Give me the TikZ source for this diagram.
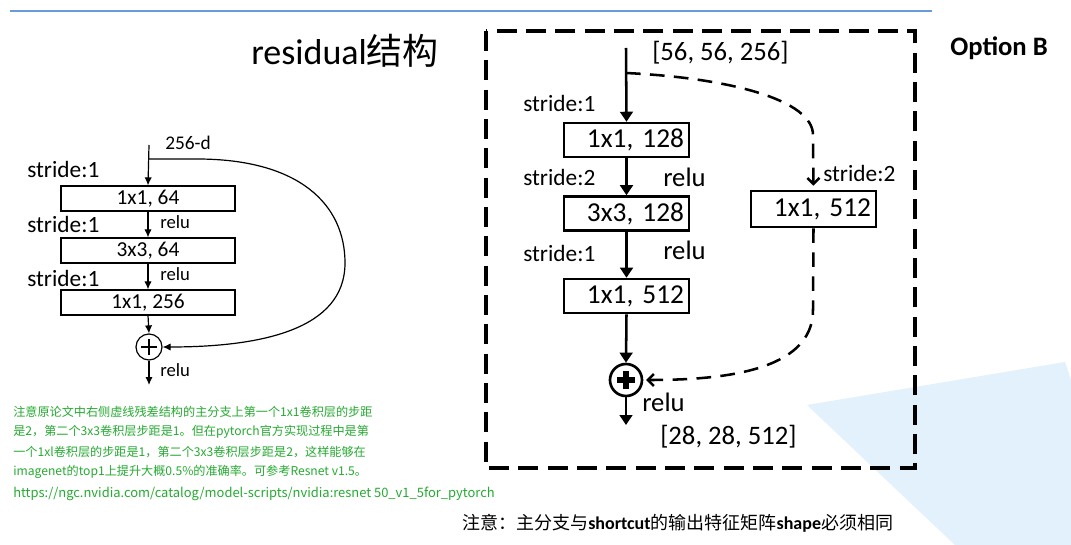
\documentclass[tikz,border=0pt]{standalone}
\usepackage{fontspec}
\setmainfont{Carlito}
\newfontfamily\cjk{Noto Sans CJK SC}
\usetikzlibrary{arrows.meta}
\definecolor{notegreen}{RGB}{38,170,50}
\definecolor{slideblue}{RGB}{106,154,216}
\definecolor{bgblue}{RGB}{226,241,251}

\begin{document}
\begin{tikzpicture}[x=0.75pt,y=-0.75pt,
    every node/.style={inner sep=0pt},
    lbox/.style={draw,line width=0.9pt,minimum width=130.5pt,minimum height=18.75pt,
        font=\fontsize{16}{18}\selectfont},
    rbox/.style={draw,line width=1.9pt,minimum width=93.75pt,minimum height=25.5pt,
        inner xsep=3.75pt,text width=86.25pt,align=right,font=\fontsize{20.5}{22}\selectfont},
    lline/.style={line width=0.9pt,-{Latex[length=6pt,width=5.5pt]}},
    rline/.style={line width=1.9pt,-{Triangle[length=7.5pt,width=9.5pt]}},
    dline/.style={line width=1.9pt,dash pattern=on 11pt off 7pt,-{Straight Barb[length=4.5pt,width=9pt]}},
    lbl/.style={anchor=west,font=\fontsize{17.5}{20}\selectfont},
    rlbl/.style={anchor=west,font=\fontsize{20}{22}\selectfont},
    greenline/.style={anchor=west,text=notegreen,font=\cjk\fontsize{9.1}{12}\selectfont}
]

    % page and background
    \useasboundingbox (0,0) rectangle (1071,545);
    \fill[white] (0,0) rectangle (1071,545);
    \fill[bgblue] (807,405) -- (1065,362) -- (1071,380) -- (1071,545) -- (955,545) -- cycle;
    \draw[slideblue,line width=0.8pt] (10,11) -- (932,11);

    \node[anchor=base west,font=\fontsize{27}{30}\selectfont] (title) at (251,65) {residual{\cjk 结构}};

    % left block
    \coordinate (lin) at (149,145);
    \coordinate (lsplit) at (149,159);
    \node[font=\fontsize{14.5}{16}\selectfont] (ldim) at (188,143) {256-d};
    \node[lbox] (l1) at (148,198.5) {1x1, 64};
    \node[lbox] (l2) at (148,250.5) {3x3, 64};
    \node[lbox] (l3) at (148,302.5) {1x1, 256};
    \node[circle,draw,line width=0.9pt,minimum size=19.5pt] (ladd) at (149,347) {};
    \draw[line width=0.9pt] (ladd.center) ++(-8,0) -- ++(16,0);
    \draw[line width=0.9pt] (ladd.center) ++(0,-8) -- ++(0,16);
    \coordinate (lout) at (149,385);

    \node[lbl] (ls1) at (27,169) {stride:1};
    \node[lbl] (ls2) at (27,224) {stride:1};
    \node[lbl] (ls3) at (27,278) {stride:1};
    \node[anchor=west,font=\fontsize{14}{16}\selectfont] (lr1) at (160,222) {relu};
    \node[anchor=west,font=\fontsize{14}{16}\selectfont] (lr2) at (160,274) {relu};
    \node[anchor=west,font=\fontsize{14}{16}\selectfont] (lr3) at (160,370) {relu};

    \draw[lline] (lin) -- (l1.north);
    \draw[lline] (l1.south) -- (l2.north);
    \draw[lline] (l2.south) -- (l3.north);
    \draw[lline] (l3.south) -- (ladd.north);
    \draw[lline] (ladd.south) -- (lout);
    \draw[lline] (lsplit) -- (197,159) .. controls (300,159) and (345,205) .. (345,263)
        .. controls (345,330) and (260,347) .. (ladd.east);

    % right block, option B
    \draw[line width=2.3pt,dash pattern=on 15pt off 7pt] (486,31) rectangle (915,468);
    \node[anchor=west,font=\bfseries\fontsize{20}{24}\selectfont] (optb) at (950,48) {Option B};

    \coordinate (rin) at (626,48);
    \coordinate (rsplit) at (626,73);
    \node[rlbl] (rdin) at (652,53) {[56, 56, 256]};
    \node[rbox] (r1) at (626.5,140) {1x1, 128};
    \node[rbox] (r2) at (626.5,213.5) {3x3, 128};
    \node[rbox] (r3) at (626.5,296) {1x1, 512};
    \node[rbox,minimum height=27pt] (rsc) at (813.5,209) {1x1, 512};
    \node[circle,draw,line width=2pt,minimum size=24pt] (radd) at (626,380) {};
    \draw[line width=4.5pt] (radd.center) ++(-9,0) -- ++(18,0);
    \draw[line width=4.5pt] (radd.center) ++(0,-9) -- ++(0,18);
    \coordinate (rout) at (626,425);

    \node[lbl] (rs1) at (523,103) {stride:1};
    \node[lbl] (rs2) at (523,177) {stride:2};
    \node[lbl] (rs3) at (523,253) {stride:1};
    \node[lbl] (rs4) at (823,173) {stride:2};
    \node[rlbl] (rr1) at (663,177) {relu};
    \node[rlbl] (rr2) at (663,250) {relu};
    \node[rlbl] (rr3) at (642,402) {relu};
    \node[rlbl] (rdout) at (660,437) {[28, 28, 512]};

    \draw[rline] (rin) -- (r1.north);
    \draw[rline] (r1.south) -- (r2.north);
    \draw[rline] (r2.south) -- (r3.north);
    \draw[rline] (r3.south) -- (radd.north);
    \draw[rline] (radd.south) -- (rout);
    \draw[dline,shorten >=3pt] (rsplit) .. controls (730,78) and (813,100) .. (813,135) -- (rsc.north);
    \draw[dline,shorten >=2pt] (rsc.south) -- (813,310) .. controls (813,372) and (720,380) .. (radd.east);

    % notes
    \node[greenline] (g1) at (13,412) {注意原论文中右侧虚线残差结构的主分支上第一个1x1卷积层的步距};
    \node[greenline] (g2) at (13,432) {是2，第二个3x3卷积层步距是1。但在pytorch官方实现过程中是第};
    \node[greenline] (g3) at (13,452) {一个1xl卷积层的步距是1，第二个3x3卷积层步距是2，这样能够在};
    \node[greenline] (g4) at (13,472) {imagenet的top1上提升大概0.5\%的准确率。可参考Resnet v1.5。};
    \node[greenline,font=\cjk\fontsize{9.7}{12}\selectfont] (g5) at (13,494) {https://ngc.nvidia.com/catalog/model-scripts/nvidia:resnet 50\_v1\_5for\_pytorch};

    \node[anchor=west,font=\cjk\fontsize{13.5}{16}\selectfont] (note) at (462,523)
        {注意：主分支与{\rmfamily\bfseries shortcut}的输出特征矩阵{\rmfamily\bfseries shape}必须相同};

\end{tikzpicture}
\end{document}
